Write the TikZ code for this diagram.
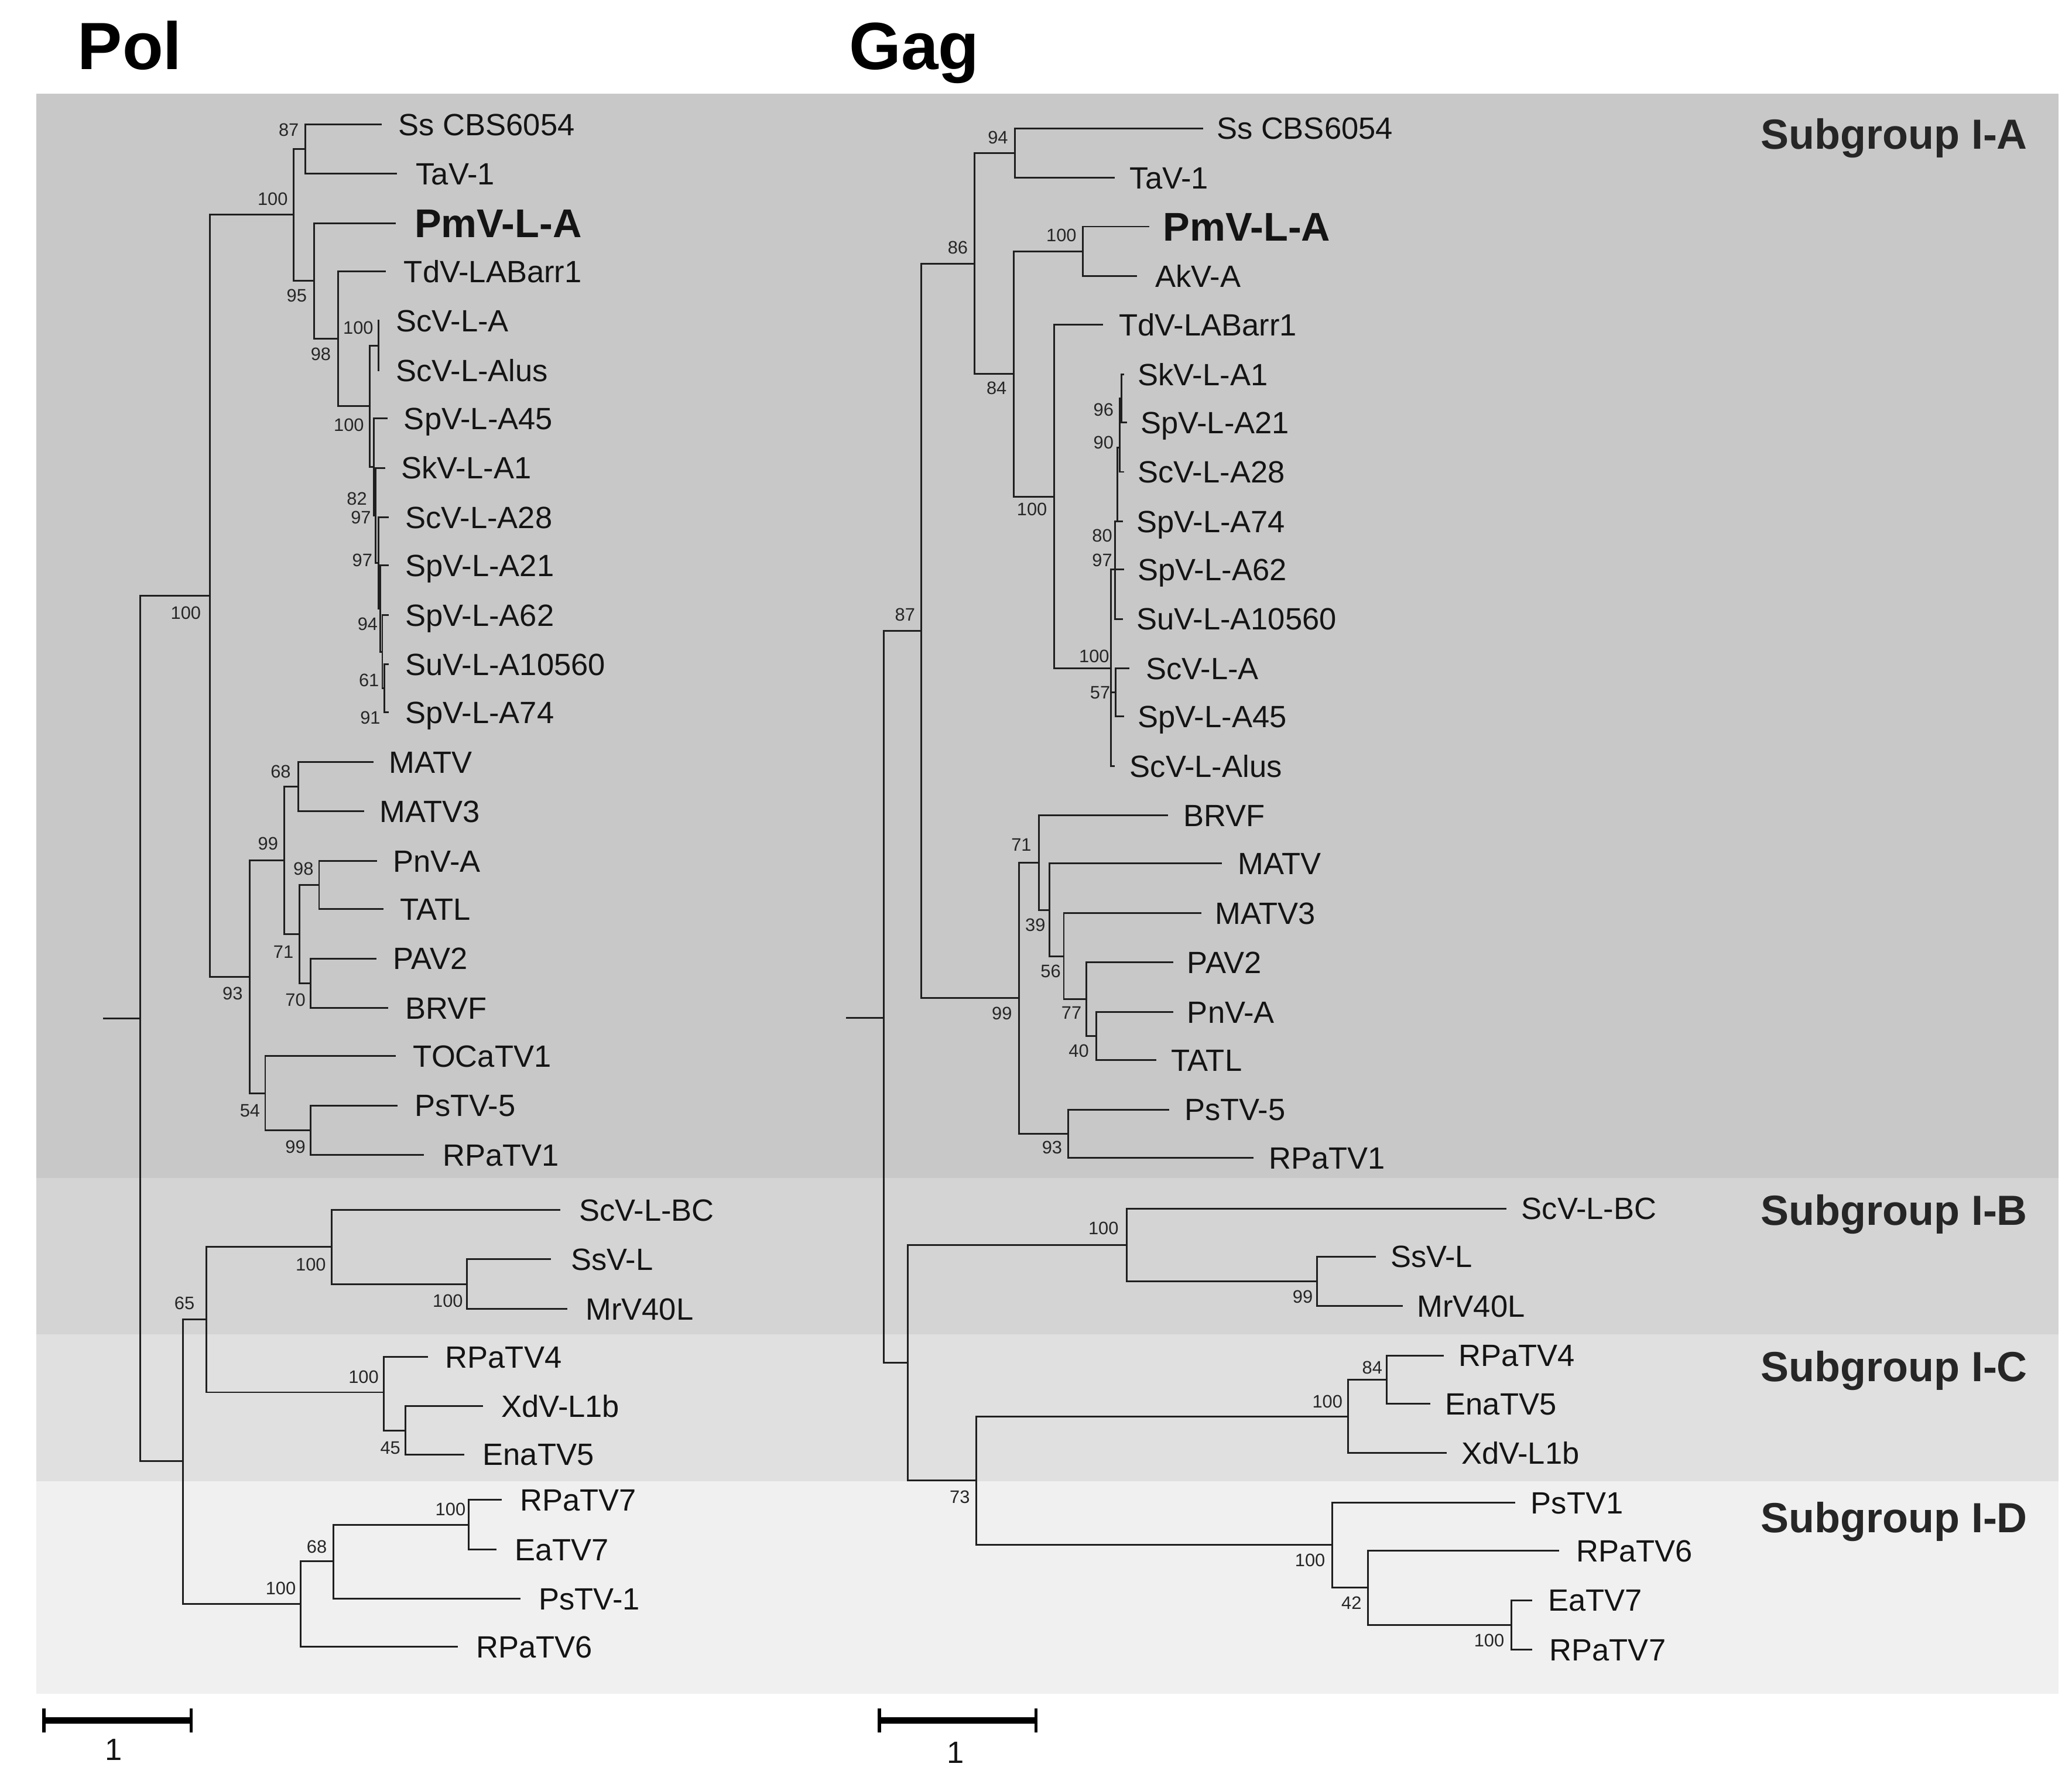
\documentclass[tikz,border=0pt]{standalone}
\usepackage{fontspec}
\setmainfont{Liberation Sans}
\newcommand{\tleaf}[6][]{\coordinate (#2) at (#3,#4); \node[lf,#1] (#2l) at (#5,#4+8.2) {#6};}
\newcommand{\supv}[4]{\node[bsl] (#1) at (#2,#3) {#4};}
\begin{document}
\begin{tikzpicture}[x=1pt,y=-1pt,
  br/.style={line width=1.3pt, draw=black!88},
  lf/.style={anchor=base west, inner sep=0pt, font=\fontsize{23}{27}\selectfont, text=black!92},
  pmv/.style={font=\bfseries\fontsize{30}{34}\selectfont, yshift=-2.5pt},
  bsl/.style={anchor=center, inner sep=0pt, font=\fontsize{13.5}{16}\selectfont, text=black!85},
  ttl/.style={anchor=base west, inner sep=0pt, font=\bfseries\fontsize{50}{56}\selectfont},
  sg/.style={anchor=base west, inner sep=0pt, font=\bfseries\fontsize{31.5}{36}\selectfont, text=black!85},
  sbar/.style={line width=4.5pt, draw=black},
  stick/.style={line width=2.6pt, draw=black}]
\useasboundingbox (0,0) rectangle (1550,1321.8);
\fill[white] (0,0) rectangle (1550,1321.8);
% subgroup bands
\fill[black!21.5] (27,70) rectangle (1540,881);
\fill[black!17] (27,881) rectangle (1540,998);
\fill[black!12] (27,998) rectangle (1540,1108);
\fill[black!6] (27,1108) rectangle (1540,1267);
% titles
\node[ttl] (tpol) at (58,52) {Pol};
\node[ttl] (tgag) at (635,52) {Gag};
\node[sg] (sgA) at (1317,111.3) {Subgroup I-A};
\node[sg] (sgB) at (1317,916.3) {Subgroup I-B};
\node[sg] (sgC) at (1317,1033.3) {Subgroup I-C};
\node[sg] (sgD) at (1317,1146.3) {Subgroup I-D};

% ================= POL =================
\coordinate (Pr0) at (77,762);
\coordinate (Pr) at (105,762);
\coordinate (PA) at (157,445.5);
\coordinate (PL) at (137,1093);
\coordinate (PB) at (219.5,160.5);
\coordinate (PM) at (186.7,730.6);
\coordinate (P87) at (228.4,111.5);
\coordinate (P95) at (234.8,210);
\coordinate (P98) at (252.8,253.4);
\coordinate (P100b) at (276.7,303.75);
\coordinate (P100a) at (283,258.5);
\coordinate (PnB) at (279.5,349.25);
\coordinate (PnC) at (281,385.5);
\coordinate (PnD) at (283,421);
\coordinate (PnE) at (284.5,455.25);
\coordinate (PnF) at (286,487.5);
\coordinate (PnG) at (287.5,515);
\coordinate (P99) at (212.5,643.6);
\coordinate (P68) at (223.1,588.5);
\coordinate (P71) at (224.1,698.75);
\coordinate (P98b) at (238.7,662);
\coordinate (P70) at (232.4,735.5);
\coordinate (P54) at (198.4,817.75);
\coordinate (P99c) at (232.4,845.5);
\coordinate (P65) at (154.5,987);
\coordinate (PIB) at (248,932.75);
\coordinate (PSsg) at (349.3,960.5);
\coordinate (PIC) at (287.3,1041.5);
\coordinate (P45) at (303.2,1070);
\coordinate (PD) at (225,1199.75);
\coordinate (P68b) at (249.3,1168);
\coordinate (P100d) at (350.7,1140.5);

\tleaf{PSs}{285.5}{93}{298}{Ss CBS6054}
\tleaf{PTaV}{297}{130}{311}{TaV-1}
\tleaf[pmv]{PPmV}{296}{167}{310}{PmV-L-A}
\tleaf{PTdV}{288.6}{203}{302}{TdV-LABarr1}
\tleaf{PScA}{284}{240}{296}{ScV-L-A}
\tleaf{PScAlus}{284}{277}{296}{ScV-L-Alus}
\tleaf{PSp45}{290}{313}{302}{SpV-L-A45}
\tleaf{PSk1}{288}{350}{300}{SkV-L-A1}
\tleaf{PSc28}{291}{387}{303}{ScV-L-A28}
\tleaf{PSp21}{291}{423}{303}{SpV-L-A21}
\tleaf{PSp62}{291}{460}{303}{SpV-L-A62}
\tleaf{PSu}{291}{497}{303}{SuV-L-A10560}
\tleaf{PSp74}{291}{533}{303}{SpV-L-A74}
\tleaf{PMATV}{279.4}{570}{291}{MATV}
\tleaf{PMATV3}{272.2}{607}{284}{MATV3}
\tleaf{PPnV}{282}{644}{294}{PnV-A}
\tleaf{PTATL}{286.8}{680}{299}{TATL}
\tleaf{PPAV2}{281.5}{717}{294}{PAV2}
\tleaf{PBRVF}{290.2}{754}{303}{BRVF}
\tleaf{PTOCa}{296}{790}{309}{TOCaTV1}
\tleaf{PPsTV5}{297.4}{827}{310}{PsTV-5}
\tleaf{PRPa1}{317.3}{864}{331}{RPaTV1}
\tleaf{PScBC}{419.1}{905}{433}{ScV-L-BC}
\tleaf{PSsV}{412.1}{942}{427}{SsV-L}
\tleaf{PMr}{424.2}{979}{438}{MrV40L}
\tleaf{PRPa4}{320}{1015}{333}{RPaTV4}
\tleaf{PXd}{361.3}{1052}{375}{XdV-L1b}
\tleaf{PEna}{347.3}{1088}{361}{EnaTV5}
\tleaf{PRPa7}{375.3}{1122}{389}{RPaTV7}
\tleaf{PEa7}{371.6}{1159}{385}{EaTV7}
\tleaf{PPs1}{389.2}{1196}{403}{PsTV-1}
\tleaf{PRPa6}{342.3}{1232}{356}{RPaTV6}

\draw[br] (Pr0) -- (Pr);
\draw[br] (Pr) |- (PA); \draw[br] (Pr) |- (PL);
\draw[br] (PA) |- (PB); \draw[br] (PA) |- (PM);
\draw[br] (PB) |- (P87); \draw[br] (PB) |- (P95);
\draw[br] (P87) |- (PSs); \draw[br] (P87) |- (PTaV);
\draw[br] (P95) |- (PPmV); \draw[br] (P95) |- (P98);
\draw[br] (P98) |- (PTdV); \draw[br] (P98) |- (P100b);
\draw[br] (P100b) |- (P100a); \draw[br] (P100b) |- (PnB);
\draw[br] (P100a) |- (PScA); \draw[br] (P100a) |- (PScAlus);
\draw[br] (PnB) |- (PSp45); \draw[br] (PnB) |- (PnC);
\draw[br] (PnC) |- (PSk1); \draw[br] (PnC) |- (PnD);
\draw[br] (PnD) |- (PSc28); \draw[br] (PnD) |- (PnE);
\draw[br] (PnE) |- (PSp21); \draw[br] (PnE) |- (PnF);
\draw[br] (PnF) |- (PSp62); \draw[br] (PnF) |- (PnG);
\draw[br] (PnG) |- (PSu); \draw[br] (PnG) |- (PSp74);
\draw[br] (PM) |- (P99); \draw[br] (PM) |- (P54);
\draw[br] (P99) |- (P68); \draw[br] (P99) |- (P71);
\draw[br] (P68) |- (PMATV); \draw[br] (P68) |- (PMATV3);
\draw[br] (P71) |- (P98b); \draw[br] (P71) |- (P70);
\draw[br] (P98b) |- (PPnV); \draw[br] (P98b) |- (PTATL);
\draw[br] (P70) |- (PPAV2); \draw[br] (P70) |- (PBRVF);
\draw[br] (P54) |- (PTOCa); \draw[br] (P54) |- (P99c);
\draw[br] (P99c) |- (PPsTV5); \draw[br] (P99c) |- (PRPa1);
\draw[br] (PL) |- (P65); \draw[br] (PL) |- (PD);
\draw[br] (P65) |- (PIB); \draw[br] (P65) |- (PIC);
\draw[br] (PIB) |- (PScBC); \draw[br] (PIB) |- (PSsg);
\draw[br] (PSsg) |- (PSsV); \draw[br] (PSsg) |- (PMr);
\draw[br] (PIC) |- (PRPa4); \draw[br] (PIC) |- (P45);
\draw[br] (P45) |- (PXd); \draw[br] (P45) |- (PEna);
\draw[br] (PD) |- (P68b); \draw[br] (PD) |- (PRPa6);
\draw[br] (P68b) |- (P100d); \draw[br] (P68b) |- (PPs1);
\draw[br] (P100d) |- (PRPa7); \draw[br] (P100d) |- (PEa7);

\supv{ps1}{216}{97}{87}
\supv{ps2}{204}{149}{100}
\supv{ps3}{222}{221}{95}
\supv{ps4}{240}{265}{98}
\supv{ps5}{268}{245}{100}
\supv{ps6}{261}{318}{100}
\supv{ps7}{267}{373}{82}
\supv{ps8}{270}{387}{97}
\supv{ps9}{271}{419}{97}
\supv{ps10}{275}{467}{94}
\supv{ps11}{276}{509}{61}
\supv{ps12}{277}{537}{91}
\supv{ps13}{139}{458.5}{100}
\supv{ps14}{210}{577}{68}
\supv{ps15}{200.5}{631}{99}
\supv{ps16}{227}{650}{98}
\supv{ps17}{212}{712}{71}
\supv{ps18}{221}{748}{70}
\supv{ps19}{174}{743}{93}
\supv{ps20}{187}{831}{54}
\supv{ps21}{221}{858}{99}
\supv{ps22}{138}{975}{65}
\supv{ps23}{232.5}{946}{100}
\supv{ps24}{335}{973}{100}
\supv{ps25}{272}{1030}{100}
\supv{ps26}{292}{1083}{45}
\supv{ps27}{237}{1157}{68}
\supv{ps28}{337}{1129}{100}
\supv{ps29}{210}{1188}{100}

% ================= GAG =================
\coordinate (Gr0) at (633,761.5);
\coordinate (Gr) at (661,761.5);
\coordinate (G87) at (689,471.8);
\coordinate (GL) at (679,1019.2);
\coordinate (G86) at (729.1,197.1);
\coordinate (G94) at (759.4,114.5);
\coordinate (G84) at (758.2,279.75);
\coordinate (G100p) at (810.2,188);
\coordinate (G100b) at (788.5,371.5);
\coordinate (G100c) at (831,500);
\coordinate (GnB) at (834,426);
\coordinate (GnC) at (836,390);
\coordinate (GnD) at (837.5,335);
\coordinate (GnE) at (839,298);
\coordinate (Gn57) at (834.5,518);
\coordinate (G99) at (762.2,746.7);
\coordinate (G71) at (777.2,645.4);
\coordinate (G39) at (785.1,680.75);
\coordinate (G56) at (795.8,715.4);
\coordinate (G77) at (812.8,747.5);
\coordinate (G40) at (820.1,775);
\coordinate (G93) at (799.2,848);
\coordinate (GIB) at (843,931.25);
\coordinate (G99b) at (985.2,958.5);
\coordinate (G73) at (730.4,1107.6);
\coordinate (GIC) at (1008.4,1059.5);
\coordinate (G84b) at (1037.5,1032);
\coordinate (GID) at (996.4,1155.75);
\coordinate (G42) at (1023.2,1187.75);
\coordinate (G100e) at (1130.5,1215.5);

\tleaf{GSs}{900}{96}{910}{Ss CBS6054}
\tleaf{GTaV}{833.7}{133}{845}{TaV-1}
\tleaf[pmv]{GPmV}{859.7}{169.5}{870}{PmV-L-A}
\tleaf{GAk}{850.6}{206.5}{864}{AkV-A}
\tleaf{GTdV}{825.2}{243}{837}{TdV-LABarr1}
\tleaf{GSk1}{841}{280}{851}{SkV-L-A1}
\tleaf{GSp21}{843}{316}{853}{SpV-L-A21}
\tleaf{GSc28}{841}{353}{851}{ScV-L-A28}
\tleaf{GSp74}{840}{390}{850}{SpV-L-A74}
\tleaf{GSp62}{841}{426}{851}{SpV-L-A62}
\tleaf{GSu}{840}{463}{850}{SuV-L-A10560}
\tleaf{GScA}{845}{500}{857}{ScV-L-A}
\tleaf{GSp45}{841}{536}{851}{SpV-L-A45}
\tleaf{GScAlus}{834}{573}{845}{ScV-L-Alus}
\tleaf{GBRVF}{873.8}{610}{885}{BRVF}
\tleaf{GMATV}{914.2}{646}{926}{MATV}
\tleaf{GMATV3}{898.7}{683}{909}{MATV3}
\tleaf{GPAV2}{877.5}{720}{888}{PAV2}
\tleaf{GPnV}{877.5}{757}{888}{PnV-A}
\tleaf{GTATL}{864.8}{793}{876}{TATL}
\tleaf{GPsTV5}{874.7}{830}{886}{PsTV-5}
\tleaf{GRPa1}{937.7}{866}{949}{RPaTV1}
\tleaf{GScBC}{1126.9}{904}{1138}{ScV-L-BC}
\tleaf{GSsV}{1029.4}{940}{1040}{SsV-L}
\tleaf{GMr}{1049.5}{977}{1060}{MrV40L}
\tleaf{GRPa4}{1080}{1014}{1091}{RPaTV4}
\tleaf{GEna}{1070.1}{1050}{1081}{EnaTV5}
\tleaf{GXd}{1082.2}{1087}{1093}{XdV-L1b}
\tleaf{GPs1}{1133.6}{1124}{1145}{PsTV1}
\tleaf{GRPa6}{1166.2}{1160}{1179}{RPaTV6}
\tleaf{GEa7}{1146.1}{1197}{1158}{EaTV7}
\tleaf{GRPa7}{1146.1}{1234}{1159}{RPaTV7}

\draw[br] (Gr0) -- (Gr);
\draw[br] (Gr) |- (G87); \draw[br] (Gr) |- (GL);
\draw[br] (G87) |- (G86); \draw[br] (G87) |- (G99);
\draw[br] (G86) |- (G94); \draw[br] (G86) |- (G84);
\draw[br] (G94) |- (GSs); \draw[br] (G94) |- (GTaV);
\draw[br] (G84) |- (G100p); \draw[br] (G84) |- (G100b);
\draw[br] (G100p) |- (GPmV); \draw[br] (G100p) |- (GAk);
\draw[br] (G100b) |- (GTdV); \draw[br] (G100b) |- (G100c);
\draw[br] (G100c) |- (GnB); \draw[br] (G100c) |- (Gn57); \draw[br] (G100c) |- (GScAlus);
\draw[br] (GnB) |- (GnC); \draw[br] (GnB) |- (GSp62); \draw[br] (GnB) |- (GSu);
\draw[br] (GnC) |- (GnD); \draw[br] (GnC) |- (GSp74);
\draw[br] (GnD) |- (GnE); \draw[br] (GnD) |- (GSc28);
\draw[br] (GnE) |- (GSk1); \draw[br] (GnE) |- (GSp21);
\draw[br] (Gn57) |- (GScA); \draw[br] (Gn57) |- (GSp45);
\draw[br] (G99) |- (G71); \draw[br] (G99) |- (G93);
\draw[br] (G71) |- (GBRVF); \draw[br] (G71) |- (G39);
\draw[br] (G39) |- (GMATV); \draw[br] (G39) |- (G56);
\draw[br] (G56) |- (GMATV3); \draw[br] (G56) |- (G77);
\draw[br] (G77) |- (GPAV2); \draw[br] (G77) |- (G40);
\draw[br] (G40) |- (GPnV); \draw[br] (G40) |- (GTATL);
\draw[br] (G93) |- (GPsTV5); \draw[br] (G93) |- (GRPa1);
\draw[br] (GL) |- (GIB); \draw[br] (GL) |- (G73);
\draw[br] (GIB) |- (GScBC); \draw[br] (GIB) |- (G99b);
\draw[br] (G99b) |- (GSsV); \draw[br] (G99b) |- (GMr);
\draw[br] (G73) |- (GIC); \draw[br] (G73) |- (GID);
\draw[br] (GIC) |- (G84b); \draw[br] (GIC) |- (GXd);
\draw[br] (G84b) |- (GRPa4); \draw[br] (G84b) |- (GEna);
\draw[br] (GID) |- (GPs1); \draw[br] (GID) |- (G42);
\draw[br] (G42) |- (GRPa6); \draw[br] (G42) |- (G100e);
\draw[br] (G100e) |- (GEa7); \draw[br] (G100e) |- (GRPa7);

\supv{gs1}{746.5}{103}{94}
\supv{gs2}{716.5}{185}{86}
\supv{gs3}{794}{176}{100}
\supv{gs4}{745.5}{290.5}{84}
\supv{gs5}{825.5}{306.5}{96}
\supv{gs6}{825.5}{331}{90}
\supv{gs7}{772}{381}{100}
\supv{gs8}{824.5}{400.5}{80}
\supv{gs9}{824.5}{419}{97}
\supv{gs10}{818.5}{491}{100}
\supv{gs11}{823}{518}{57}
\supv{gs12}{677}{460}{87}
\supv{gs13}{764}{632}{71}
\supv{gs14}{774.5}{692}{39}
\supv{gs15}{786}{726.5}{56}
\supv{gs16}{801.5}{757.5}{77}
\supv{gs17}{807}{786}{40}
\supv{gs18}{749.5}{758}{99}
\supv{gs19}{787}{858.5}{93}
\supv{gs20}{825.5}{919}{100}
\supv{gs21}{974.5}{970}{99}
\supv{gs22}{1026.5}{1023}{84}
\supv{gs23}{993}{1048.5}{100}
\supv{gs24}{718}{1120}{73}
\supv{gs25}{980}{1167}{100}
\supv{gs26}{1011}{1199}{42}
\supv{gs27}{1114}{1227}{100}

% ================= scale bars =================
\coordinate (sbPa) at (33,1287); \coordinate (sbPb) at (143,1287);
\coordinate (sbGa) at (658,1287); \coordinate (sbGb) at (775,1287);
\draw[sbar] (sbPa) -- (sbPb);
\draw[stick] ([yshift=9pt]sbPa) -- ([yshift=-9pt]sbPa);
\draw[stick] ([yshift=9pt]sbPb) -- ([yshift=-9pt]sbPb);
\draw[sbar] (sbGa) -- (sbGb);
\draw[stick] ([yshift=9pt]sbGa) -- ([yshift=-9pt]sbGa);
\draw[stick] ([yshift=9pt]sbGb) -- ([yshift=-9pt]sbGb);
\node[lf, anchor=center] (sbPl) at (85,1309) {1};
\node[lf, anchor=center] (sbGl) at (715,1311) {1};
\end{tikzpicture}
\end{document}
